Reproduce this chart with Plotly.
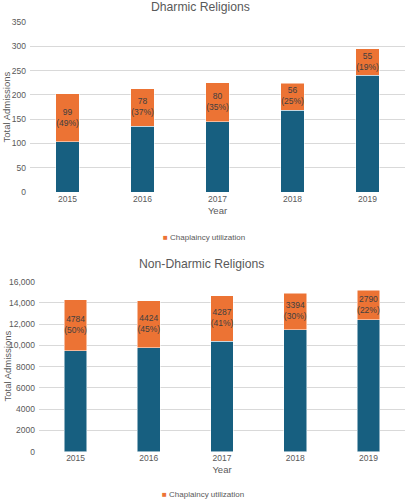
import plotly.graph_objects as go

years = ["2015", "2016", "2017", "2018", "2019"]

# Dharmic religions
dh_base = [103, 135, 145, 168, 240]
dh_chap = [99, 78, 80, 56, 55]
dh_pct = ["49%", "37%", "35%", "25%", "19%"]

# Non-Dharmic religions
nd_base = [9500, 9800, 10400, 11500, 12400]
nd_chap = [4784, 4424, 4287, 3394, 2790]
nd_pct = ["50%", "45%", "41%", "30%", "22%"]

dh_tickvals = [0, 50, 100, 150, 200, 250, 300, 350]
dh_ticktext = ["0", "50", "100", "150", "200", "250", "300", "350"]
nd_tickvals = [0, 2000, 4000, 6000, 8000, 10000, 12000, 14000, 16000]
nd_ticktext = ["0", "2000", "4000", "6000", "8000", "10,000", "12,000", "14,000", "16,000"]

legend_name = "Chaplaincy utilization"

BLUE = "#175f80"
ORANGE = "#ec7334"
TXT = "#595959"
GRID = "#d9d9d9"
FONT = "Liberation Sans, Arial, sans-serif"

fig = go.Figure()

def add_panel(base, chap, pct, xa, ya):
    fig.add_trace(go.Bar(x=years, y=base, marker=dict(color=BLUE, line=dict(color="white", width=0.5)),
                         showlegend=False, xaxis=xa, yaxis=ya, hoverinfo="skip"))
    fig.add_trace(go.Bar(x=years, y=chap, name=legend_name,
                         marker=dict(color=ORANGE, line=dict(color="white", width=0.5)),
                         showlegend=False, xaxis=xa, yaxis=ya))
    mids = [b + c / 2 for b, c in zip(base, chap)]
    labels = [f"{c}<br>({p})" for c, p in zip(chap, pct)]
    fig.add_trace(go.Scatter(x=years, y=mids, mode="text", text=labels,
                             textfont=dict(size=8.5, color="#404040", family=FONT),
                             showlegend=False, xaxis=xa, yaxis=ya, hoverinfo="skip"))

add_panel(dh_base, dh_chap, dh_pct, "x", "y")
add_panel(nd_base, nd_chap, nd_pct, "x2", "y2")

axis_common = dict(showline=False, zeroline=False, automargin=False,
                   tickfont=dict(size=8.5, color=TXT, family=FONT))

legend_text = f'<span style="color:{ORANGE}">■</span> {legend_name}'

fig.update_layout(
    width=405, height=500,
    margin=dict(l=0, r=0, t=0, b=0),
    paper_bgcolor="white", plot_bgcolor="white",
    barmode="stack", bargap=0.69,
    showlegend=False,
    font=dict(family=FONT, color=TXT),
    xaxis=dict(domain=[30/405, 1], anchor="y", showgrid=False, ticks="", **axis_common,
               title=dict(text="Year", font=dict(size=9.5, color=TXT), standoff=4)),
    yaxis=dict(domain=[1-192/500, 1-22/500], anchor="x", range=[0, 350],
               tickvals=dh_tickvals, ticktext=dh_ticktext, showgrid=True, gridcolor=GRID, gridwidth=1,
               ticks="", ticklabelstandoff=3, **axis_common),
    xaxis2=dict(domain=[39/405, 1], anchor="y2", showgrid=False, ticks="", **axis_common,
                title=dict(text="Year", font=dict(size=9.5, color=TXT), standoff=4)),
    yaxis2=dict(domain=[1-451.7/500, 1-281.7/500], anchor="x2", range=[0, 16000],
                tickvals=nd_tickvals, ticktext=nd_ticktext, showgrid=True, gridcolor=GRID, gridwidth=1,
                ticks="", ticklabelstandoff=3, **axis_common),
    annotations=[
        dict(text="Dharmic Religions", x=0.495, y=1-7/500, xref="paper", yref="paper",
             showarrow=False, font=dict(size=12.2, color=TXT, family=FONT), yanchor="middle"),
        dict(text="Non-Dharmic Religions", x=0.497, y=1-264/500, xref="paper", yref="paper",
             showarrow=False, font=dict(size=12.2, color=TXT, family=FONT), yanchor="middle"),
        dict(text="Total Admissions", x=6.5/405, y=1-107/500, xref="paper", yref="paper",
             textangle=-90, showarrow=False, font=dict(size=9.5, color=TXT, family=FONT),
             xanchor="center", yanchor="middle"),
        dict(text="Total Admissions", x=6.5/405, y=1-366/500, xref="paper", yref="paper",
             textangle=-90, showarrow=False, font=dict(size=9.5, color=TXT, family=FONT),
             xanchor="center", yanchor="middle"),
        dict(text=legend_text, x=161/405, y=1-237/500, xref="paper", yref="paper",
             showarrow=False, font=dict(size=8, color=TXT, family=FONT),
             xanchor="left", yanchor="middle"),
        dict(text=legend_text, x=161/405, y=0, xref="paper", yref="paper",
             showarrow=False, font=dict(size=8, color=TXT, family=FONT), borderpad=0,
             xanchor="left", yanchor="bottom"),
    ],
)

fig.write_html("out.html", config={"displayModeBar": False},
               post_script="document.body.style.margin='0';")
